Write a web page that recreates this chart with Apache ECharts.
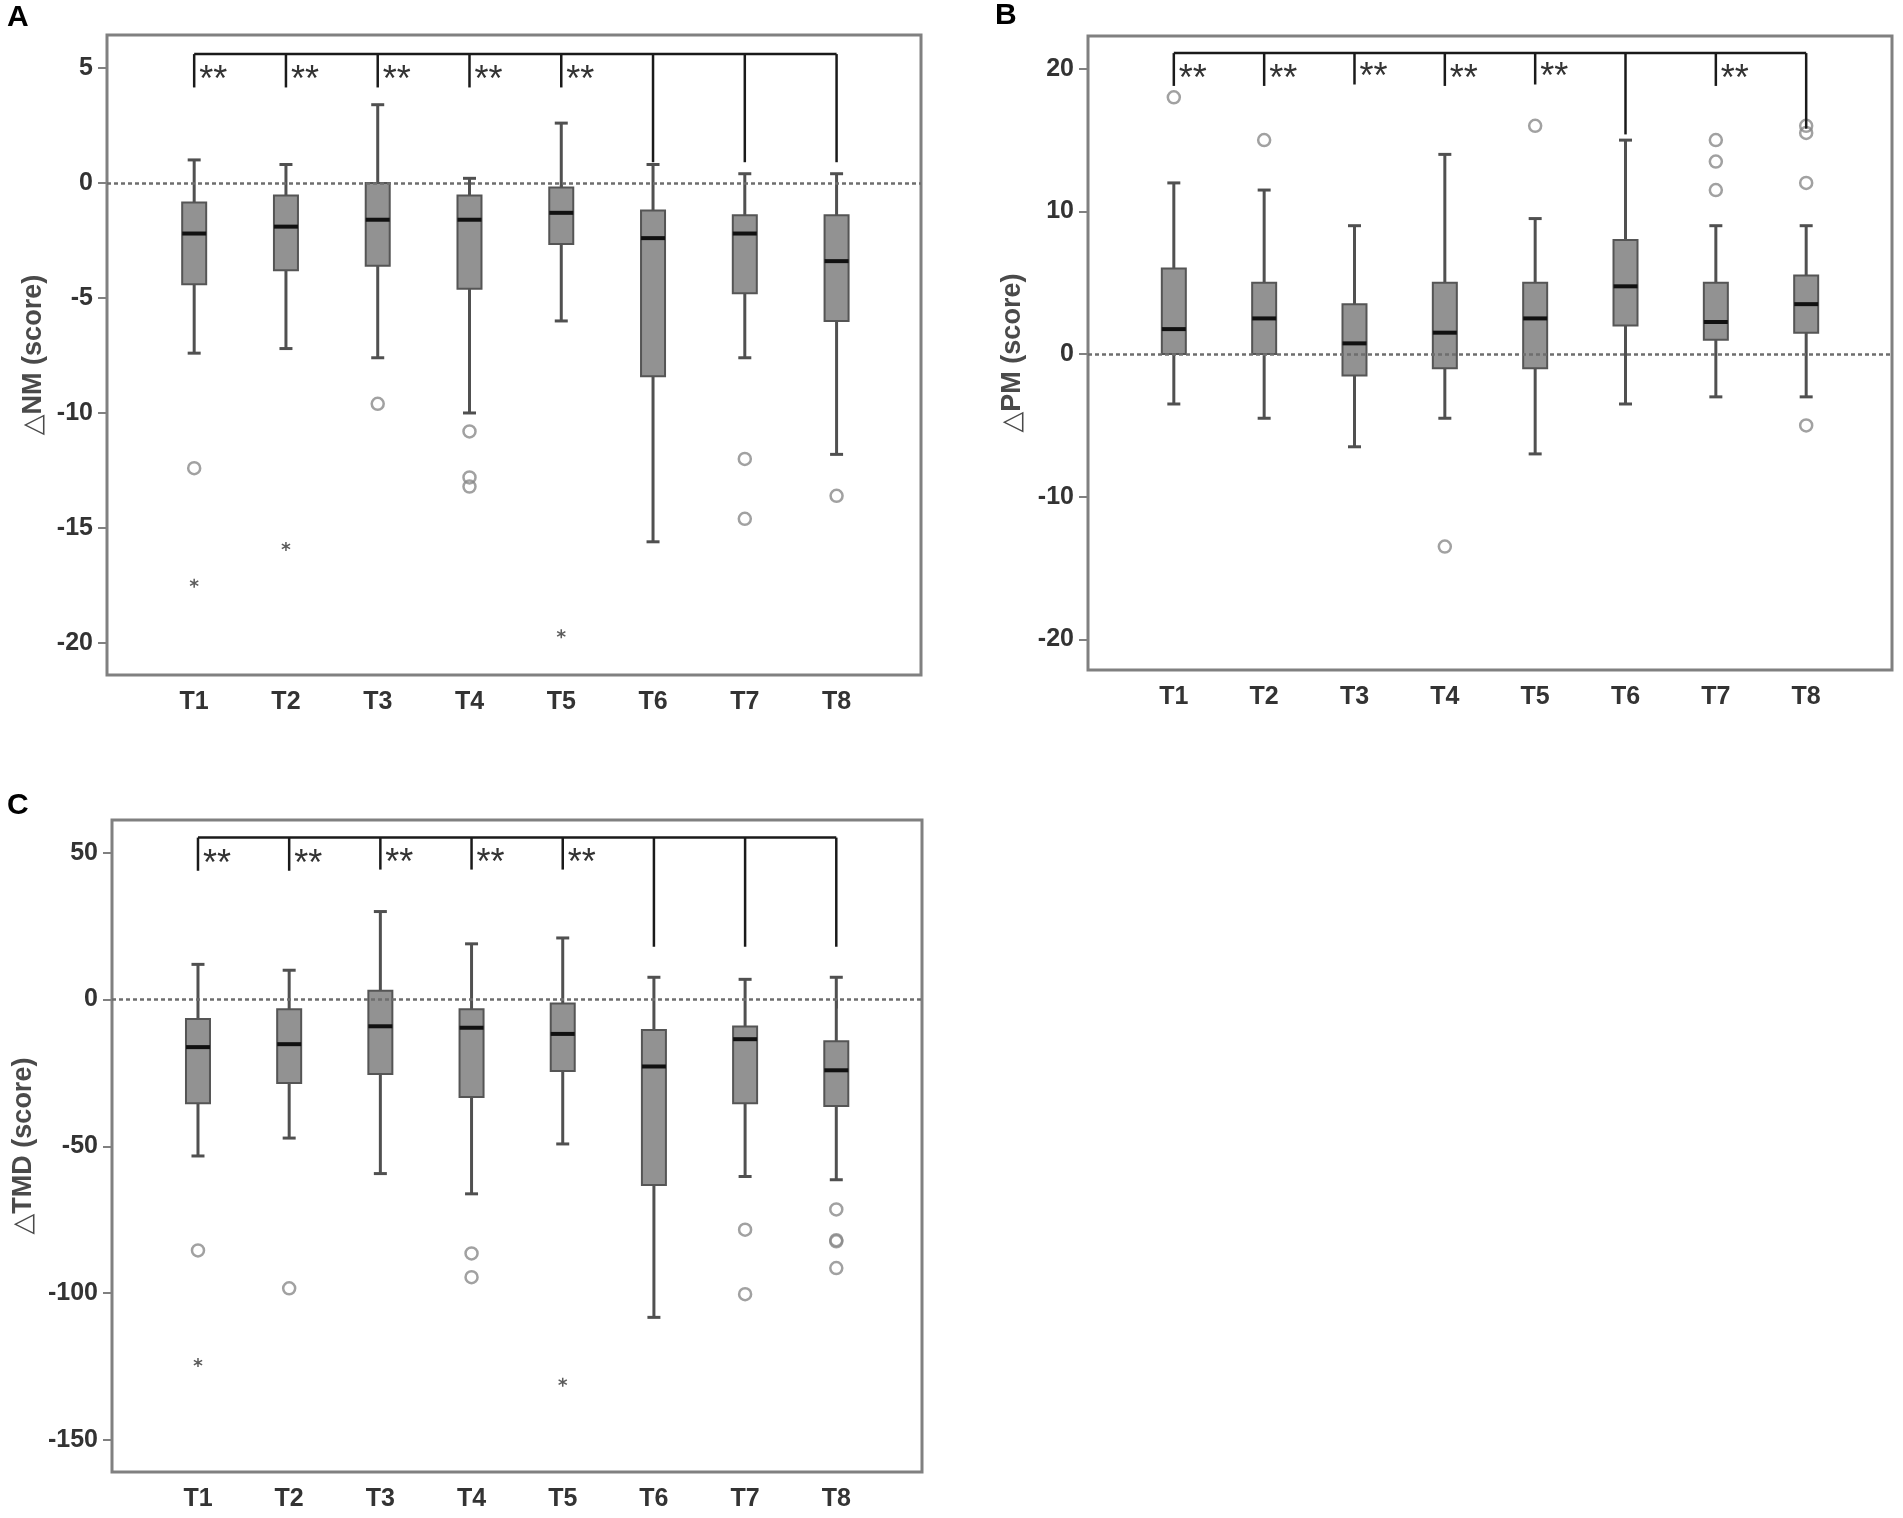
<!DOCTYPE html>
<html>
<head>
<meta charset="utf-8">
<script src="https://cdn.jsdelivr.net/npm/echarts@6/dist/echarts.min.js"></script>
<style>
  html, body { margin: 0; padding: 0; background: #fff; }
  #chart { width: 1903px; height: 1518px; }
</style>
</head>
<body>
<div id="chart"></div>
<script>
const categories = ['T1', 'T2', 'T3', 'T4', 'T5', 'T6', 'T7', 'T8'];
const xTicks = [1, 2, 3, 4, 5, 6, 7, 8];

// box rows: [min, Q1, median, Q3, max]
const nmBoxes = [
  [-7.4, -4.4, -2.2, -0.85, 1.0],
  [-7.2, -3.8, -1.9, -0.55, 0.8],
  [-7.6, -3.6, -1.6, 0.0, 3.4],
  [-10.0, -4.6, -1.6, -0.55, 0.2],
  [-6.0, -2.65, -1.3, -0.2, 2.6],
  [-15.6, -8.4, -2.4, -1.2, 0.8],
  [-7.6, -4.8, -2.2, -1.4, 0.4],
  [-11.8, -6.0, -3.4, -1.4, 0.4]
];
const nmOutliers = [[1, -12.4], [3, -9.6], [4, -10.8], [4, -12.8], [4, -13.2], [7, -12.0], [7, -14.6], [8, -13.6]];
const nmExtremes = [[1, -17.4], [2, -15.8], [5, -19.6]];
const nmTicks = [-20, -15, -10, -5, 0, 5];
const nmBracketTop = 5.6;
const nmBracketEnds = [4.15, 4.15, 4.15, 4.15, 4.15, 0.9, 0.9, 0.9];
const nmSignificant = [1, 1, 1, 1, 1, 0, 0, 0];

const pmBoxes = [
  [-3.5, 0.0, 1.75, 6.0, 12.0],
  [-4.5, 0.0, 2.5, 5.0, 11.5],
  [-6.5, -1.5, 0.75, 3.5, 9.0],
  [-4.5, -1.0, 1.5, 5.0, 14.0],
  [-7.0, -1.0, 2.5, 5.0, 9.5],
  [-3.5, 2.0, 4.75, 8.0, 15.0],
  [-3.0, 1.0, 2.25, 5.0, 9.0],
  [-3.0, 1.5, 3.5, 5.5, 9.0]
];
const pmOutliers = [[1, 18.0], [2, 15.0], [4, -13.5], [5, 16.0], [7, 15.0], [7, 13.5], [7, 11.5], [8, 16.0], [8, 15.5], [8, 12.0], [8, -5.0]];
const pmExtremes = [];
const pmTicks = [-20, -10, 0, 10, 20];
const pmBracketTop = 21.1;
const pmBracketEnds = [18.8, 18.8, 18.9, 18.8, 18.9, 15.4, 18.8, 15.8];
const pmSignificant = [1, 1, 1, 1, 1, 0, 1, 0];

const tmdBoxes = [
  [-53.3, -35.3, -16.2, -6.6, 12.0],
  [-47.2, -28.4, -15.2, -3.3, 10.0],
  [-59.3, -25.4, -9.1, 3.0, 30.0],
  [-66.2, -33.2, -9.6, -3.3, 19.0],
  [-49.2, -24.3, -11.7, -1.3, 21.0],
  [-108.3, -63.2, -22.8, -10.4, 7.6],
  [-60.3, -35.3, -13.5, -9.2, 6.9],
  [-61.4, -36.3, -24.1, -14.2, 7.6]
];
const tmdOutliers = [[1, -85.5], [2, -98.4], [4, -86.5], [4, -94.6], [7, -78.4], [7, -100.4], [8, -71.5], [8, -82.0], [8, -82.4], [8, -91.5]];
const tmdExtremes = [[1, -123.7], [5, -130.4]];
const tmdTicks = [-150, -100, -50, 0, 50];
const tmdBracketTop = 55.2;
const tmdBracketEnds = [43.9, 43.9, 44.3, 44.3, 44.3, 18.0, 18.0, 18.0];
const tmdSignificant = [1, 1, 1, 1, 1, 0, 0, 0];

const panels = [
  { name: '△NM (score)', boxes: nmBoxes, outliers: nmOutliers, extremes: nmExtremes, ticks: nmTicks,
    top: nmBracketTop, ends: nmBracketEnds, sig: nmSignificant,
    grid: { left: 107, top: 35, width: 814, height: 640 }, x: [0.05, 8.92], y: [-21.39, 6.43], nameGap: 60 },
  { name: '△PM (score)', boxes: pmBoxes, outliers: pmOutliers, extremes: pmExtremes, ticks: pmTicks,
    top: pmBracketTop, ends: pmBracketEnds, sig: pmSignificant,
    grid: { left: 1088, top: 36, width: 804, height: 634 }, x: [0.05, 8.95], y: [-22.15, 22.3], nameGap: 62 },
  { name: '△TMD (score)', boxes: tmdBoxes, outliers: tmdOutliers, extremes: tmdExtremes, ticks: tmdTicks,
    top: tmdBracketTop, ends: tmdBracketEnds, sig: tmdSignificant,
    grid: { left: 112, top: 820, width: 810, height: 652 }, x: [0.057, 8.94], y: [-161.0, 61.2], nameGap: 75 }
];

const labelFont = "'Liberation Sans Narrow', 'Liberation Sans', Arial, sans-serif";
const asterisk = 'path://M-0.8,-5L0.8,-5L0.8,5L-0.8,5Z M3.93,-3.19L4.73,-1.81L-3.93,3.19L-4.73,1.81Z M-4.73,-1.81L-3.93,-3.19L4.73,1.81L3.93,3.19Z';

function renderBox(params, api) {
  const x = api.value(0);
  const lo = api.coord([x, api.value(1)]);
  const q1 = api.coord([x, api.value(2)]);
  const md = api.coord([x, api.value(3)]);
  const q3 = api.coord([x, api.value(4)]);
  const hi = api.coord([x, api.value(5)]);
  const cx = lo[0];
  const w = 24;
  const cap = 13;
  const ws = { stroke: '#505050', lineWidth: 3 };
  return {
    type: 'group',
    children: [
      { type: 'line', shape: { x1: cx, y1: hi[1], x2: cx, y2: q3[1] }, style: ws },
      { type: 'line', shape: { x1: cx, y1: q1[1], x2: cx, y2: lo[1] }, style: ws },
      { type: 'line', shape: { x1: cx - cap / 2, y1: hi[1], x2: cx + cap / 2, y2: hi[1] }, style: ws },
      { type: 'line', shape: { x1: cx - cap / 2, y1: lo[1], x2: cx + cap / 2, y2: lo[1] }, style: ws },
      { type: 'rect', shape: { x: cx - w / 2, y: q3[1], width: w, height: q1[1] - q3[1] },
        style: { fill: '#929292', stroke: '#555', lineWidth: 2 } },
      { type: 'line', shape: { x1: cx - w / 2, y1: md[1], x2: cx + w / 2, y2: md[1] },
        style: { stroke: '#111', lineWidth: 4 } }
    ]
  };
}

function renderDrop(params, api) {
  const x = api.value(0);
  const top = api.coord([x, api.value(1)]);
  const end = api.coord([x, api.value(2)]);
  const children = [
    { type: 'line', shape: { x1: top[0], y1: top[1], x2: end[0], y2: end[1] },
      style: { stroke: '#1a1a1a', lineWidth: 2.5 } }
  ];
  if (api.value(3)) {
    children.push({
      type: 'text', x: end[0] + 5, y: end[1] - 6,
      style: { text: '**', fontSize: 36, fontFamily: 'Liberation Sans, Arial', fill: '#333',
               align: 'left', verticalAlign: 'middle' }
    });
  }
  return { type: 'group', children: children };
}

const grids = [], xAxes = [], yAxes = [], series = [];
panels.forEach((p, i) => {
  grids.push(Object.assign({ show: true, borderColor: '#808080', borderWidth: 3, backgroundColor: 'transparent' }, p.grid));
  xAxes.push({
    gridIndex: i, type: 'value', min: p.x[0], max: p.x[1],
    axisLine: { show: false }, splitLine: { show: false },
    axisTick: { show: true, customValues: xTicks, length: 9, lineStyle: { color: '#808080', width: 2 } },
    axisLabel: { customValues: xTicks, formatter: v => categories[Math.round(v) - 1], margin: 15,
                 fontSize: 25, fontWeight: 'bold', fontFamily: labelFont, color: '#333' }
  });
  yAxes.push({
    gridIndex: i, type: 'value', min: p.y[0], max: p.y[1],
    name: p.name, nameLocation: 'middle', nameGap: p.nameGap, nameRotate: 90,
    nameTextStyle: { fontSize: 27, fontWeight: 'bold', fontFamily: 'Liberation Sans, DejaVu Sans, Arial', color: '#4a4a4a' },
    axisLine: { show: false }, splitLine: { show: false },
    axisTick: { show: true, customValues: p.ticks, length: 9, lineStyle: { color: '#808080', width: 2 } },
    axisLabel: { customValues: p.ticks, margin: 14, fontSize: 25, fontWeight: 'bold', fontFamily: labelFont, color: '#333' }
  });
  series.push({
    type: 'custom', xAxisIndex: i, yAxisIndex: i, z: 2,
    renderItem: renderBox,
    encode: { x: 0, y: [1, 2, 3, 4, 5] },
    data: p.boxes.map((b, k) => [xTicks[k]].concat(b))
  });
  series.push({
    type: 'scatter', xAxisIndex: i, yAxisIndex: i, z: 3,
    symbol: 'circle', symbolSize: 12,
    itemStyle: { color: 'rgba(255,255,255,0)', borderColor: '#8a8a8a', borderWidth: 2.5 },
    data: p.outliers,
    markLine: {
      silent: true, symbol: 'none', label: { show: false },
      lineStyle: { type: [4, 3], color: '#6e6e6e', width: 2.5 },
      data: [{ yAxis: 0 }]
    }
  });
  series.push({
    type: 'scatter', xAxisIndex: i, yAxisIndex: i, z: 3,
    symbol: asterisk, symbolSize: 9, itemStyle: { color: '#333' },
    data: p.extremes
  });
  series.push({
    type: 'line', xAxisIndex: i, yAxisIndex: i, z: 4, symbol: 'none',
    lineStyle: { color: '#1a1a1a', width: 2.5 },
    data: [[xTicks[0], p.top], [xTicks[xTicks.length - 1], p.top]]
  });
  series.push({
    type: 'custom', xAxisIndex: i, yAxisIndex: i, z: 4,
    renderItem: renderDrop,
    encode: { x: 0, y: [1, 2] },
    data: p.ends.map((e, k) => [xTicks[k], p.top, e, p.sig[k]])
  });
});

const chart = echarts.init(document.getElementById('chart'));
chart.setOption({
  animation: false,
  backgroundColor: '#fff',
  grid: grids,
  xAxis: xAxes,
  yAxis: yAxes,
  series: series,
  graphic: [
    { type: 'text', left: 7, top: 3, style: { text: 'A', fontSize: 30, fontWeight: 'bold', fontFamily: 'Liberation Sans, Arial', fill: '#000' } },
    { type: 'text', left: 995, top: 1, style: { text: 'B', fontSize: 30, fontWeight: 'bold', fontFamily: 'Liberation Sans, Arial', fill: '#000' } },
    { type: 'text', left: 7, top: 791, style: { text: 'C', fontSize: 30, fontWeight: 'bold', fontFamily: 'Liberation Sans, Arial', fill: '#000' } }
  ]
});
</script>
</body>
</html>
